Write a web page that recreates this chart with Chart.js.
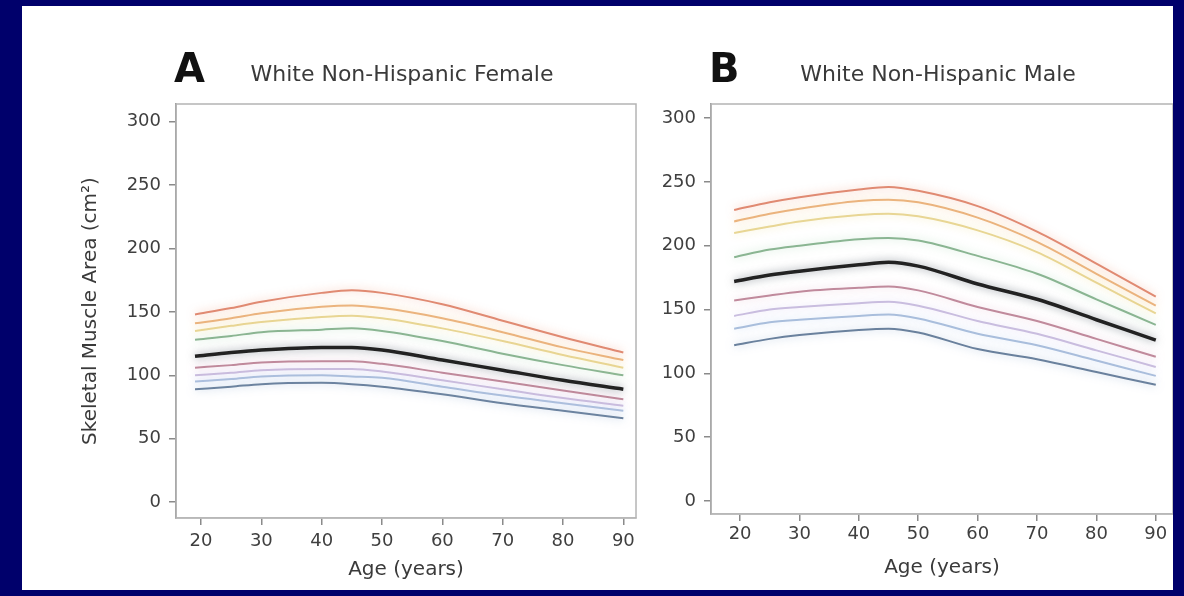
<!DOCTYPE html>
<html>
<head>
<meta charset="utf-8">
<script src="https://cdn.jsdelivr.net/npm/chart.js@4.4.1/dist/chart.umd.min.js"></script>
<style>
  html, body { margin: 0; padding: 0; background: #00006b; overflow: hidden; }
  #panel { position: absolute; left: 22px; top: 6px; width: 1151px; height: 584px; background: #fff; overflow: hidden; }
  .plot { position: absolute; top: 14px; width: 630px; height: 570px; }
  #wrapA { left: 8px; }
  #wrapB { left: 543px; }
</style>
</head>
<body>
<div id="panel">
  <div class="plot" id="wrapA"><canvas id="chartA"></canvas></div>
  <div class="plot" id="wrapB"><canvas id="chartB"></canvas></div>
</div>
<script>
const ages = [19, 25, 30, 40, 45, 50, 60, 70, 80, 90];
const ageTicks = [20, 30, 40, 50, 60, 70, 80, 90];
const areaTicks = [0, 50, 100, 150, 200, 250, 300];
const percentiles = ['95th', '90th', '85th', '75th', '50th', '25th', '15th', '10th', '5th'];

// A - White Non-Hispanic Female, skeletal muscle area (cm2)
const femaleP95 = [148, 153, 158, 165, 167, 165, 156, 143, 130, 118];
const femaleP90 = [141, 145, 149, 154, 155, 153, 145, 134, 122, 112];
const femaleP85 = [135, 139, 142, 146, 147, 145, 137, 127, 116, 106];
const femaleP75 = [128, 131, 134, 136, 137, 135, 127, 117, 108, 100];
const femaleP50 = [115, 118, 120, 122, 122, 120, 112, 104, 96, 89];
const femaleP25 = [106, 108, 110, 111, 111, 109, 102, 95, 88, 81];
const femaleP15 = [100, 102, 104, 105, 105, 103, 96, 89, 82, 76];
const femaleP10 = [95, 97, 99, 100, 99, 98, 91, 84, 78, 72];
const femaleP5 = [89, 91, 93, 94, 93, 91, 85, 78, 72, 66];

// B - White Non-Hispanic Male
const maleP95 = [228, 234, 238, 244, 246, 243, 231, 211, 186, 160];
const maleP90 = [219, 225, 229, 235, 236, 234, 222, 203, 178, 153];
const maleP85 = [210, 215, 219, 224, 225, 223, 212, 195, 171, 147];
const maleP75 = [191, 197, 200, 205, 206, 204, 192, 178, 158, 138];
const maleP50 = [172, 177, 180, 185, 187, 184, 170, 158, 142, 126];
const maleP25 = [157, 161, 164, 167, 168, 165, 152, 141, 127, 113];
const maleP15 = [145, 150, 152, 155, 156, 153, 141, 131, 118, 105];
const maleP10 = [135, 140, 142, 145, 146, 143, 131, 122, 110, 98];
const maleP5 = [122, 127, 130, 134, 135, 132, 119, 111, 101, 91];

const lineColors = ['#e08a72', '#ebb47e', '#e8d694', '#8ab592', '#222222', '#c08a9c', '#c9bddf', '#a9bedc', '#6a819d'];
const haloColors = ['rgba(240,160,130,0.7)', 'rgba(245,195,130,0.7)', 'rgba(240,228,160,0.8)', 'rgba(170,215,180,0.7)',
  'rgba(100,110,120,0.7)', 'rgba(220,170,195,0.6)', 'rgba(215,205,240,0.8)', 'rgba(185,208,240,0.8)', 'rgba(150,175,210,0.7)'];

const fontFamily = '"DejaVu Sans", "Liberation Sans", sans-serif';

function makeSets(series) {
  return series.map((vals, i) => ({
    label: percentiles[i],
    data: ages.map((a, j) => ({ x: a, y: vals[j] })),
    borderColor: lineColors[i],
    haloColor: haloColors[i],
    borderWidth: i === 4 ? 3.5 : 2,
    pointRadius: 0,
    fill: false,
    cubicInterpolationMode: 'monotone',
    order: i === 4 ? -1 : 0,
  }));
}

const haloPlugin = {
  id: 'halo',
  beforeDatasetDraw(chart, args) {
    const ds = chart.data.datasets[args.index];
    chart.ctx.save();
    chart.ctx.shadowColor = ds.haloColor;
    chart.ctx.shadowBlur = 8;
  },
  afterDatasetDraw(chart) {
    chart.ctx.restore();
  }
};

const framePlugin = {
  id: 'frame',
  afterDraw(chart, args, opts) {
    const { ctx, chartArea: a } = chart;
    ctx.save();
    ctx.strokeStyle = '#b4b4b4';
    ctx.lineWidth = 1.5;
    ctx.strokeRect(a.left, a.top, a.right - a.left, a.bottom - a.top);
    ctx.fillStyle = '#111';
    ctx.font = 'bold 40px ' + fontFamily;
    ctx.textAlign = 'left';
    ctx.textBaseline = 'alphabetic';
    ctx.fillText(opts.letter, a.left - 2, a.top - 22);
    ctx.fillStyle = '#3a3a3a';
    ctx.font = '22px ' + fontFamily;
    ctx.textAlign = 'center';
    ctx.fillText(opts.title, (a.left + a.right) / 2 - 4, a.top - 23);
    ctx.restore();
  }
};

function createChart(id, series, cfg) {
  new Chart(document.getElementById(id), {
    type: 'line',
    data: { datasets: makeSets(series) },
    plugins: [haloPlugin, framePlugin],
    options: {
      responsive: true,
      maintainAspectRatio: false,
      animation: false,
      events: [],
      layout: { padding: { top: 84, right: cfg.padRight, left: 0, bottom: 0 } },
      plugins: {
        legend: { display: false },
        tooltip: { enabled: false },
        frame: { letter: cfg.letter, title: cfg.title },
      },
      scales: {
        x: {
          type: 'linear',
          min: cfg.xMin,
          max: cfg.xMax,
          afterBuildTicks: s => { s.ticks = ageTicks.map(v => ({ value: v })); },
          afterFit: s => { s.height = cfg.xHeight; },
          grid: { drawOnChartArea: false, drawTicks: true, tickLength: 7, color: '#8a8a8a', lineWidth: 1.5 },
          border: { display: true, color: '#c4c4c4', width: 1.5 },
          ticks: { color: '#3f3f3f', padding: cfg.xTickPad, maxRotation: 0, font: { family: fontFamily, size: 18 } },
          title: { display: true, text: 'Age (years)', color: '#3a3a3a', padding: { top: 0, bottom: cfg.xTitlePad }, font: { family: fontFamily, size: 20 } },
        },
        y: {
          min: cfg.yMin,
          max: cfg.yMax,
          afterBuildTicks: s => { s.ticks = areaTicks.map(v => ({ value: v })); },
          afterFit: s => { s.width = 146; },
          grid: { drawOnChartArea: false, drawTicks: true, tickLength: 7, color: '#8a8a8a', lineWidth: 1.5 },
          border: { display: true, color: '#8a8a8a', width: 1.5 },
          ticks: { color: '#3f3f3f', padding: 8, font: { family: fontFamily, size: 18 } },
          title: { display: cfg.yTitle, text: 'Skeletal Muscle Area (cm²)', color: '#3a3a3a', padding: { top: 49, bottom: 0 }, font: { family: fontFamily, size: 20 } },
        },
      },
    },
  });
}

createChart('chartA', [femaleP95, femaleP90, femaleP85, femaleP75, femaleP50, femaleP25, femaleP15, femaleP10, femaleP5], {
  letter: 'A', title: 'White Non-Hispanic Female',
  xMin: 15.85, xMax: 92.1, yMin: -12.6, yMax: 314,
  xHeight: 72, xTickPad: 6, xTitlePad: 8, yTitle: true, padRight: 24,
});

createChart('chartB', [maleP95, maleP90, maleP85, maleP75, maleP50, maleP25, maleP15, maleP10, maleP5], {
  letter: 'B', title: 'White Non-Hispanic Male',
  xMin: 15.1, xMax: 92.9, yMin: -10.2, yMax: 311,
  xHeight: 76, xTickPad: 3, xTitlePad: 10, yTitle: false, padRight: 22,
});
</script>
</body>
</html>
